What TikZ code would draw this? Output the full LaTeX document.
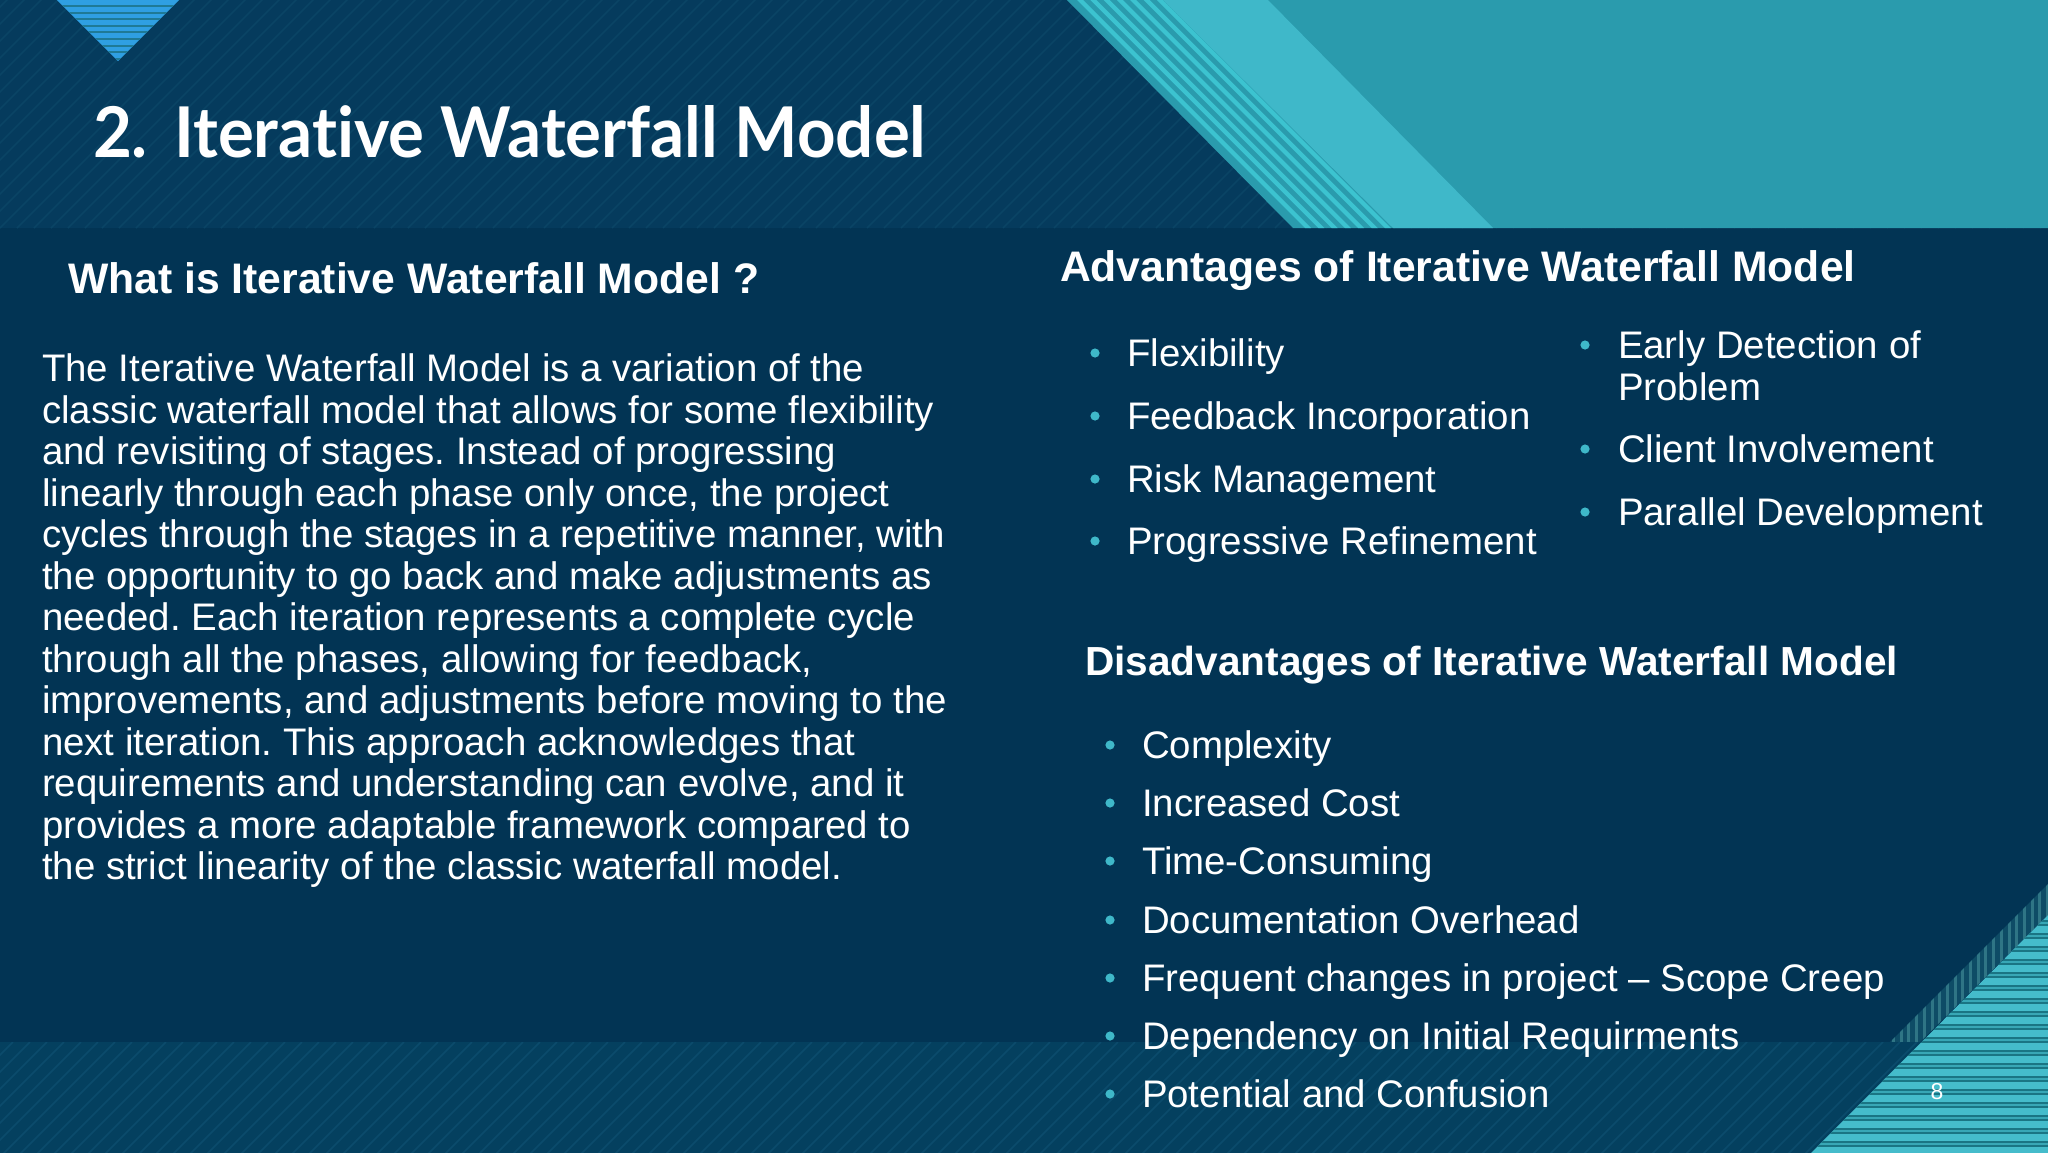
\documentclass[tikz,border=0pt]{standalone}
\usepackage{fontspec}
\setmainfont{Liberation Sans}
\newfontfamily\titlefont[FakeStretch=0.96,Ligatures={NoCommon,NoRare}]{Lato}
\definecolor{midbg}{HTML}{023454}
\definecolor{topbg}{HTML}{053B5D}
\definecolor{tophatch}{HTML}{0A4465}
\definecolor{botbg}{HTML}{04405F}
\definecolor{bothatch}{HTML}{0B4B6C}
\definecolor{tealdark}{HTML}{2A9BAD}
\definecolor{teallight}{HTML}{3FB8C9}
\definecolor{tealline}{HTML}{3CC3D0}
\definecolor{triblue}{HTML}{2F9FE2}
\definecolor{tridark}{HTML}{1F7A96}
\definecolor{brlight}{HTML}{45BCCB}
\definecolor{brdark}{HTML}{1A7584}
\definecolor{bandbg}{HTML}{0E4C66}
\definecolor{bandline}{HTML}{2F7585}
\definecolor{bulletc}{HTML}{3FB8C9}
\tikzset{
  every node/.style={inner sep=0pt,outer sep=0pt,text=white},
  bodyline/.style={anchor=base west,font=\fontsize{19.2}{22}\selectfont},
  heading/.style={anchor=base west,font=\fontsize{21.35}{24}\selectfont\bfseries},
  headingb/.style={anchor=base west,font=\fontsize{20.3}{24}\selectfont\bfseries},
  item/.style={anchor=base west,font=\fontsize{19.2}{22}\selectfont},
  dotmark/.style={circle,fill=bulletc,minimum size=4.6pt},
}
\frenchspacing
\begin{document}
\begin{tikzpicture}[x=0.5pt,y=-0.5pt]
\useasboundingbox (0,0) rectangle (2048,1152);
\fill[midbg] (-5,-5) rectangle (2053,1157);
% top hatched band
\begin{scope}
\clip (-5,-5) rectangle (2053,228);
\fill[topbg] (-5,-5) rectangle (2053,228);
\foreach \i in {-20,...,130}
  \draw[tophatch,line width=0.8pt] ({\i*17},228) -- ({\i*17+233},-5);
\end{scope}
% bottom hatched band
\begin{scope}
\clip (-5,1042) rectangle (2053,1157);
\fill[botbg] (-5,1042) rectangle (2053,1157);
\foreach \i in {-10,...,130}
  \draw[bothatch,line width=0.8pt] ({\i*17},1157) -- ({\i*17+115},1042);
\end{scope}
% top left triangle
\begin{scope}
\clip (57,0) -- (179,0) -- (118,61) -- cycle;
\fill[triblue] (0,-5) rectangle (200,70);
\foreach \i in {0,...,9}
  \fill[tridark] (0,{5+\i*6.6}) rectangle (200,{7+\i*6.6});
\end{scope}
% top right
\fill[tealdark] (1062,-5) -- (2053,-5) -- (2053,228) -- (1293,228) -- cycle;
\fill[teallight] (1158,-5) -- (1263,-5) -- (1493,228) -- (1393,228) -- cycle;
\begin{scope}
\clip (1062,-5) -- (1158,-5) -- (1393,228) -- (1293,228) -- cycle;
\foreach \i in {0,...,6}
  \fill[tealline] ({1072+\i*13.3},-5) -- ({1078+\i*13.3},-5) -- ({1078+\i*13.3+233},228) -- ({1072+\i*13.3+233},228) -- cycle;
\end{scope}
% bottom right band
\begin{scope}
\clip (2053,879) -- (2053,910) -- (1920,1042) -- (1890,1042) -- cycle;
\fill[bandbg] (1880,870) rectangle (2053,1042);
\foreach \i in {0,...,22}
  \fill[bandline] ({1892+\i*7.7},870) rectangle ({1895+\i*7.7},1042);
\end{scope}
% bottom right triangle
\begin{scope}
\clip (2053,910) -- (2053,1157) -- (1807,1157) -- cycle;
\fill[brlight] (1800,900) rectangle (2053,1157);
\foreach \i in {0,...,19}{
  \fill[brdark] (1800,{920+\i*13}) rectangle (2053,{926+\i*13});
  \fill[brlight!70!brdark] (1800,{922.3+\i*13}) rectangle (2053,{923.7+\i*13});
}
\end{scope}
% title
\node[anchor=base west,font=\titlefont\bfseries\fontsize{35}{40}\selectfont] (title) at (93,157) {2.\hspace{5pt} Iterative Waterfall Model};
% left
\node[heading] (h1) at (68,293) {What is Iterative Waterfall Model ?};
\foreach \n/\yy/\t in {
 1/381/{The Iterative Waterfall Model is a variation of the},
 2/423/{classic waterfall model that allows for some flexibility},
 3/464/{and revisiting of stages. Instead of progressing},
 4/506/{linearly through each phase only once, the project},
 5/547/{cycles through the stages in a repetitive manner, with},
 6/589/{the opportunity to go back and make adjustments as},
 7/630/{needed. Each iteration represents a complete cycle},
 8/672/{through all the phases, allowing for feedback,},
 9/713/{improvements, and adjustments before moving to the},
 10/755/{next iteration. This approach acknowledges that},
 11/796/{requirements and understanding can evolve, and it},
 12/838/{provides a more adaptable framework compared to},
 13/879/{the strict linearity of the classic waterfall model.}}
  \node[bodyline] (body\n) at (42,\yy) {\t};
% advantages
\node[heading] (h2) at (1060,281) {Advantages of Iterative Waterfall Model};
\foreach \n/\yy/\t in {1/366/Flexibility,2/429/Feedback Incorporation,3/492/Risk Management,4/554/Progressive Refinement}{
  \node[item] (advl\n) at (1127,\yy) {\t};
  \node[dotmark] (advld\n) at (1095,\yy-13) {};
}
\foreach \n/\yy/\t in {1/358/Early Detection of,3/462/Client Involvement,4/525/Parallel Development}{
  \node[item] (advr\n) at (1618,\yy) {\t};
  \node[dotmark] (advrd\n) at (1585,\yy-13) {};
}
\node[item] (advr2) at (1618,400) {Problem};
% disadvantages
\node[headingb] (h3) at (1085,675) {Disadvantages of Iterative Waterfall Model};
\foreach \n/\yy/\t in {1/758/Complexity,2/816/Increased Cost,3/874/Time-Consuming,4/933/Documentation Overhead,5/991/Frequent changes in project – Scope Creep,6/1049/Dependency on Initial Requirments,7/1107/Potential and Confusion}{
  \node[item] (dis\n) at (1142,\yy) {\t};
  \node[dotmark] (disd\n) at (1110,\yy-13) {};
}
\node[font=\fontsize{11.5}{12}\selectfont] (pagenum) at (1937,1092) {8};
\end{tikzpicture}
\end{document}
